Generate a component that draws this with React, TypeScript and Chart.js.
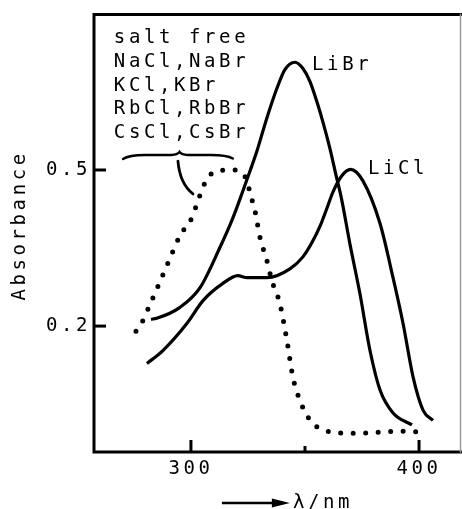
import React, { useEffect, useRef } from "react";
import { Chart, registerables } from "chart.js";

Chart.register(...registerables);

// ---- data ----
const libr_nm = [282.5, 285.0, 295.2, 304.0, 312.7, 318.4, 322.8, 325.9, 328.9, 333.3, 337.7, 341.2, 345.6, 349.1, 352.2, 355.3, 358.0, 361.0, 363.5, 366.0, 369.7, 374.1, 378.5, 382.9, 388.6, 396.9];
const libr_abs = [0.213, 0.215, 0.236, 0.274, 0.351, 0.408, 0.460, 0.498, 0.536, 0.600, 0.657, 0.693, 0.707, 0.695, 0.670, 0.630, 0.590, 0.540, 0.492, 0.445, 0.358, 0.262, 0.153, 0.077, 0.033, 0.010];

const licl_nm = [280.7, 287.7, 298.2, 305.3, 314.0, 320.6, 324.6, 333.3, 343.4, 349.1, 353.0, 356.6, 359.5, 362.3, 366.0, 370.0, 375.4, 382.9, 388.6, 393.0, 397.4, 401.8, 406.1];
const licl_abs = [0.128, 0.153, 0.205, 0.249, 0.282, 0.297, 0.293, 0.293, 0.310, 0.333, 0.360, 0.392, 0.425, 0.458, 0.488, 0.501, 0.479, 0.397, 0.293, 0.205, 0.102, 0.038, 0.019];

const saltFree_nm = [275.9, 278.5, 282.0, 285.5, 290.8, 295.2, 300.4, 303.1, 306.1, 308.3, 311.4, 318.4, 322.4, 324.6, 325.9, 328.1, 330.3, 333.3, 335.5, 339.0, 342.1, 344.7, 347.8, 351.3, 355.3, 359.6, 371.1, 393.0, 401.8];
const saltFree_abs = [0.190, 0.207, 0.241, 0.276, 0.330, 0.374, 0.408, 0.441, 0.475, 0.490, 0.498, 0.500, 0.494, 0.479, 0.456, 0.421, 0.370, 0.326, 0.287, 0.243, 0.172, 0.102, 0.057, 0.025, 0.006, -0.002, -0.006, -0.002, -0.004];

const xTickValues = [300, 350, 400];
const xTickLabels = ["300", "", "400"];
const yTickValues = [0.2, 0.5];
const yTickLabels = ["0.2", "0.5"];

const legendLines = ["salt free", "NaCl,NaBr", "KCl,KBr", "RbCl,RbBr", "CsCl,CsBr"];
const seriesNames = ["LiBr", "LiCl", "salt free"];
const yTitle = "Absorbance";
const xTitle = "λ/nm";

// annotation anchors in data coordinates
const legendAnchor = { x: 266.2, y: 0.744 };
const liBrAnchor = { x: 353.1, y: 0.693 };
const liClAnchor = { x: 377.6, y: 0.492 };
const braceSpan = { x1: 270.2, x2: 318.4, xm: 295.0, y: 0.527 };
const leaderSpan = { x1: 294.3, y1: 0.517, x2: 300.9, y2: 0.454 };

const FONT = '"DejaVu Sans Mono", monospace';
const FONT_SIZE = 19;
const SPACING = 3.6;

const toPoints = (xs: number[], ys: number[]) => xs.map((x, i) => ({ x, y: ys[i] }));

const annotPlugin = {
  id: "annot",
  beforeDraw(chart: any) {
    chart.ctx.letterSpacing = SPACING + "px";
  },
  afterDraw(chart: any) {
    const { ctx, chartArea: a, scales } = chart;
    const px = (v: number) => scales.x.getPixelForValue(v);
    const py = (v: number) => scales.y.getPixelForValue(v);
    ctx.save();
    (ctx as any).letterSpacing = SPACING + "px";

    // frame
    ctx.strokeStyle = "#000";
    ctx.lineWidth = 3;
    ctx.lineCap = "square";
    ctx.beginPath();
    ctx.moveTo(a.right, a.top);
    ctx.lineTo(a.left, a.top);
    ctx.lineTo(a.left, a.bottom);
    ctx.lineTo(a.right, a.bottom);
    ctx.stroke();
    ctx.strokeStyle = "#9a9a9a";
    ctx.lineWidth = 1.5;
    ctx.beginPath();
    ctx.moveTo(a.right - 0.5, a.top);
    ctx.lineTo(a.right - 0.5, a.bottom);
    ctx.stroke();

    // inward ticks
    ctx.strokeStyle = "#000";
    ctx.lineWidth = 3;
    ctx.lineCap = "butt";
    yTickValues.forEach((v) => {
      const y = py(v);
      ctx.beginPath();
      ctx.moveTo(a.left, y);
      ctx.lineTo(a.left + 12, y);
      ctx.stroke();
    });
    xTickValues.forEach((v, i) => {
      const x = px(v);
      const len = xTickLabels[i] ? 12 : 6;
      ctx.beginPath();
      ctx.moveTo(x, a.bottom);
      ctx.lineTo(x, a.bottom - len);
      ctx.stroke();
    });

    // texts
    ctx.fillStyle = "#000";
    ctx.font = `${FONT_SIZE}px ${FONT}`;
    ctx.textAlign = "left";
    ctx.textBaseline = "alphabetic";
    const lx = px(legendAnchor.x);
    const ly = py(legendAnchor.y);
    legendLines.forEach((t, i) => ctx.fillText(t, lx, ly + i * 23.75));
    ctx.fillText(seriesNames[0], px(liBrAnchor.x), py(liBrAnchor.y));
    ctx.fillText(seriesNames[1], px(liClAnchor.x), py(liClAnchor.y));

    // y title
    ctx.save();
    const tw = ctx.measureText(yTitle).width - SPACING;
    ctx.translate(a.left - 74, py(0.39));
    ctx.rotate(-Math.PI / 2);
    ctx.textBaseline = "middle";
    ctx.fillText(yTitle, -tw / 2, 0);
    ctx.restore();

    // x title with arrow
    const tx = px(344.7);
    const ty = a.bottom + 56;
    ctx.fillText(xTitle, tx, ty);
    const ay = ty - 5;
    ctx.lineWidth = 2.5;
    ctx.beginPath();
    ctx.moveTo(tx - 71, ay);
    ctx.lineTo(tx - 18, ay);
    ctx.stroke();
    ctx.beginPath();
    ctx.moveTo(tx - 21, ay - 4.5);
    ctx.lineTo(tx - 3, ay);
    ctx.lineTo(tx - 21, ay + 4.5);
    ctx.closePath();
    ctx.fill();

    // brace
    const bx1 = px(braceSpan.x1);
    const bx2 = px(braceSpan.x2);
    const bxm = px(braceSpan.xm);
    const by = py(braceSpan.y);
    ctx.lineWidth = 2.4;
    ctx.lineCap = "round";
    ctx.beginPath();
    ctx.moveTo(bx1, by + 3);
    ctx.quadraticCurveTo(bx1 + 6, by - 1, bx1 + 22, by - 1);
    ctx.lineTo(bxm - 8, by - 1);
    ctx.quadraticCurveTo(bxm - 2, by - 1, bxm, by - 4);
    ctx.quadraticCurveTo(bxm + 2, by - 1, bxm + 8, by - 1);
    ctx.lineTo(bx2 - 22, by - 1);
    ctx.quadraticCurveTo(bx2 - 6, by - 1, bx2, by + 2.5);
    ctx.stroke();

    // leader
    ctx.lineWidth = 2.8;
    const l1x = px(leaderSpan.x1), l1y = py(leaderSpan.y1);
    const l2x = px(leaderSpan.x2), l2y = py(leaderSpan.y2);
    ctx.beginPath();
    ctx.moveTo(l1x, l1y);
    ctx.quadraticCurveTo(l1x + 2, l2y - 10, l2x, l2y);
    ctx.stroke();

    ctx.restore();
  },
};

export default function App() {
  const ref = useRef<HTMLCanvasElement | null>(null);
  useEffect(() => {
    if (!ref.current) return;
    const chart = new Chart(ref.current, {
      type: "line",
      data: {
        datasets: [
          {
            label: seriesNames[0],
            data: toPoints(libr_nm, libr_abs),
            borderColor: "#000",
            borderWidth: 3.2,
            pointRadius: 0,
            cubicInterpolationMode: "monotone",
            fill: false,
          },
          {
            label: seriesNames[1],
            data: toPoints(licl_nm, licl_abs),
            borderColor: "#000",
            borderWidth: 3.2,
            pointRadius: 0,
            cubicInterpolationMode: "monotone",
            fill: false,
          },
          {
            label: seriesNames[2],
            data: toPoints(saltFree_nm, saltFree_abs),
            borderColor: "#000",
            borderWidth: 5,
            borderDash: [0, 12.5],
            borderCapStyle: "round",
            pointRadius: 0,
            cubicInterpolationMode: "monotone",
            fill: false,
          },
        ],
      },
      options: {
        animation: false,
        responsive: false,
        maintainAspectRatio: false,
        devicePixelRatio: 1,
        layout: { padding: { top: 13, right: 1, left: 0, bottom: 0 } },
        plugins: { legend: { display: false }, tooltip: { enabled: false } },
        scales: {
          x: {
            type: "linear",
            min: 257.5,
            max: 418.4,
            grid: { display: false, drawTicks: false },
            border: { display: false },
            afterBuildTicks: (s: any) => {
              s.ticks = xTickValues.map((v) => ({ value: v }));
            },
            afterFit: (s: any) => {
              s.height = 57;
            },
            ticks: {
              padding: 6,
              color: "#000",
              font: { family: FONT, size: FONT_SIZE },
              maxRotation: 0,
              autoSkip: false,
              callback: (v: any) => {
                const i = xTickValues.indexOf(Number(v));
                return i >= 0 ? xTickLabels[i] : "";
              },
            },
          },
          y: {
            type: "linear",
            min: -0.042,
            max: 0.799,
            grid: { display: false, drawTicks: false },
            border: { display: false },
            afterBuildTicks: (s: any) => {
              s.ticks = yTickValues.map((v) => ({ value: v }));
            },
            afterFit: (s: any) => {
              s.width = 94;
            },
            ticks: {
              padding: 3,
              color: "#000",
              font: { family: FONT, size: FONT_SIZE },
              autoSkip: false,
              callback: (v: any) => {
                const i = yTickValues.findIndex((t) => Math.abs(t - Number(v)) < 1e-9);
                return i >= 0 ? yTickLabels[i] : "";
              },
            },
          },
        },
      },
      plugins: [annotPlugin],
    });
    return () => chart.destroy();
  }, []);
  return (
    <div style={{ position: "fixed", left: 0, top: 0, width: 462, height: 509, background: "#fff" }}>
      <canvas ref={ref} width={462} height={509} style={{ display: "block" }} />
    </div>
  );
}
